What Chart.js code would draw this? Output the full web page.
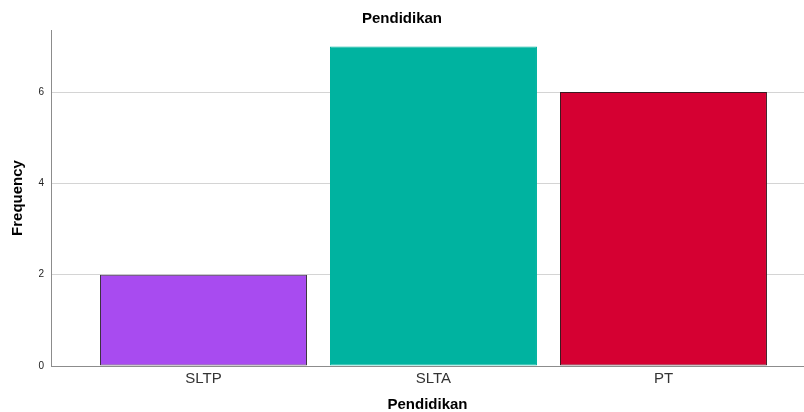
<!DOCTYPE html>
<html>
<head>
<meta charset="utf-8">
<script src="https://cdn.jsdelivr.net/npm/chart.js@4"></script>
<style>
  html, body { margin: 0; padding: 0; background: #fff; }
  #wrap { width: 804px; height: 412px; }
</style>
</head>
<body>
<div id="wrap"><canvas id="chart" width="804" height="412"></canvas></div>
<script>
const categories = ["SLTP", "SLTA", "PT"];
const frequency = [2, 7, 6];
const yTicks = [0, 2, 4, 6];
const barColors = ["#a84bf0", "#00b3a0", "#d50032"];
const barBorders = ["#3c3340", "#00b3a0", "#3a1a20"];

const fontFamily = "'Liberation Sans', Arial, sans-serif";

const ctx = document.getElementById("chart").getContext("2d");

new Chart(ctx, {
  type: "bar",
  data: {
    datasets: [{
      label: "Frequency",
      data: categories.map((c, i) => ({ x: i, y: frequency[i] })),
      backgroundColor: barColors,
      borderColor: barBorders,
      borderWidth: 1,
      borderSkipped: false,
      categoryPercentage: 1,
      barPercentage: 0.9
    }]
  },
  options: {
    responsive: false,
    animation: false,
    layout: { padding: 0 },
    plugins: {
      legend: { display: false },
      tooltip: { enabled: false },
      title: {
        display: true,
        text: "Pendidikan",
        color: "#000",
        font: { family: fontFamily, size: 15, weight: "bold", lineHeight: 1.2 },
        padding: { top: 10, bottom: 2 }
      }
    },
    scales: {
      x: {
        type: "linear",
        offset: false,
        min: -0.663,
        max: 2.611,
        afterBuildTicks: (scale) => {
          scale.ticks = categories.map((c, i) => ({ value: i }));
        },
        afterFit: (scale) => { scale.height = 46; },
        ticks: {
          callback: (v) => categories[v],
          color: "#333",
          font: { family: fontFamily, size: 15 },
          padding: 4,
          maxRotation: 0,
          autoSkip: false
        },
        grid: { display: false, drawTicks: false },
        border: { display: true, color: "#8c8c8c", width: 1 },
        title: {
          display: true,
          text: "Pendidikan",
          color: "#000",
          font: { family: fontFamily, size: 15, weight: "bold", lineHeight: 0.9 },
          padding: { top: 0, bottom: 0 }
        }
      },
      y: {
        min: 0,
        max: 7.36,
        afterBuildTicks: (scale) => {
          scale.ticks = yTicks.map((v) => ({ value: v }));
        },
        afterFit: (scale) => { scale.width = 51; },
        ticks: {
          color: "#222",
          font: { family: fontFamily, size: 10 },
          padding: 7
        },
        grid: {
          color: "#d4d4d4",
          lineWidth: 1,
          drawTicks: false
        },
        border: { display: true, color: "#8c8c8c", width: 1 },
        title: {
          display: true,
          text: "Frequency",
          color: "#000",
          font: { family: fontFamily, size: 15, weight: "bold", lineHeight: 1 },
          padding: { top: 10, bottom: 0 }
        }
      }
    }
  }
});
</script>
</body>
</html>
